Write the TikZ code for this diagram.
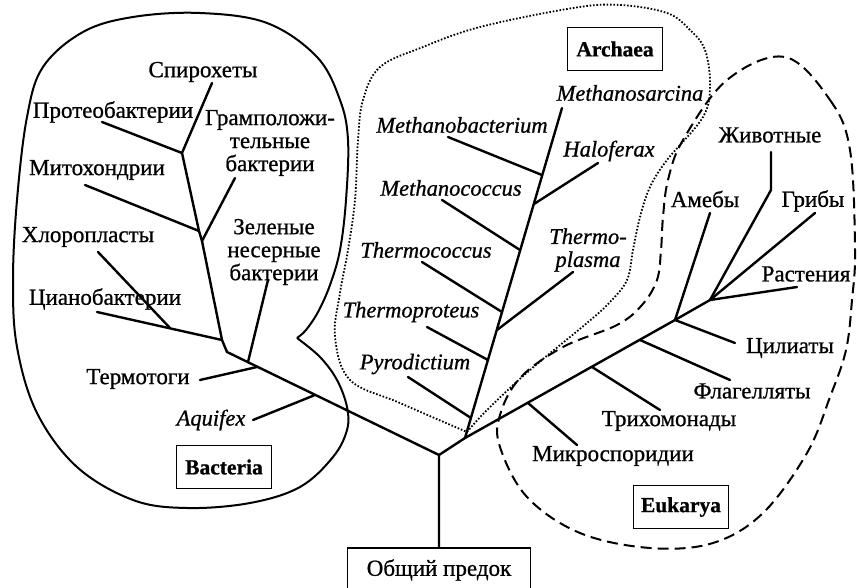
\documentclass[tikz,border=0pt]{standalone}
\usepackage{fontspec}
\setmainfont{Liberation Serif}[FakeBold=0.8]
\begin{document}
\begin{tikzpicture}[x=1pt,y=-1pt,
  br/.style={line width=2.4pt,line cap=round},
  lbl/.style={inner sep=1pt,align=center,font=\fontsize{23}{23}\selectfont},
  sp/.style={inner sep=1pt,align=center,font=\fontsize{22.5}{23}\selectfont\itshape},
  dom/.style={draw,line width=1.8pt,minimum width=95pt,minimum height=43pt,inner sep=2pt,font=\fontsize{21.5}{23}\selectfont\bfseries}]
  \useasboundingbox (0,0) rectangle (857,588);
  % outlines of the three domains
  \draw[line width=2pt] plot[smooth,tension=0.6] coordinates {(297,338) (320,357) (337,380) (347,407) (347,430) (333,457) (300,487) (250,503) (187,508) (133,500) (77,467) (37,413) (17,347) (13,280) (17,200) (27,117) (43,67) (83,32) (133,17) (200,13) (267,23) (317,57) (340,100) (348,140) (346,200) (340,250) (330,285) (318,312) (306,330) (297,338)};
  \draw[line width=1.8pt,dash pattern=on 1.6pt off 1.8pt] plot[smooth,tension=0.6] coordinates {(467,432) (487,410) (530,370) (587,323) (610,302) (627,280) (633,250) (640,217) (650,187) (667,160) (703,117) (710,85) (705,50) (690,30) (667,13) (620,5) (573,8) (480,27) (423,47) (380,67) (363,100) (358,140) (355,200) (348,250) (340,293) (335,337) (350,380) (400,403) (467,432)};
  \draw[line width=2pt,dash pattern=on 11pt off 6pt] plot[smooth cycle,tension=0.6] coordinates {(785,57) (830,100) (850,150) (855,250) (852,300) (846,350) (830,397) (807,453) (763,513) (713,543) (650,548) (580,533) (527,497) (500,447) (500,415) (520,378) (563,347) (617,325) (642,305) (657,280) (661,250) (663,217) (668,180) (683,140) (727,80)};

  \node[dom] (bact) at (224,467) {Bacteria};
  \node[dom] (arch) at (615,49) {Archaea};
  \node[dom] (euk) at (681,507) {Eukarya};
  \node[draw,line width=1.8pt,minimum width=183pt,minimum height=44pt,lbl] (anc) at (439,570) {Общий предок};

  \coordinate (r0) at (439,455);
  \coordinate (a0) at (465,438);
  \draw[br] (anc) -- (r0) -- (a0);

  % Bacteria
  \coordinate (b0) at (227,352);
  \coordinate (bcy) at (222,340);
  \coordinate (bch) at (170,328);
  \coordinate (bgr) at (202,241);
  \coordinate (bmi) at (199,231);
  \coordinate (bpr) at (182,153);
  \coordinate (baq) at (315,395);
  \coordinate (bth) at (257,367);
  \coordinate (bgn) at (248,362);
  \coordinate (spiroE) at (212,83);
  \coordinate (proteoE) at (102,122);
  \coordinate (mitoE) at (85,185);
  \coordinate (gramE) at (235,178);
  \coordinate (chloroE) at (98,252);
  \coordinate (cyanoE) at (97,312);
  \coordinate (greenE) at (268,280);
  \coordinate (thermoE) at (200,380);
  \coordinate (aquiE) at (253,420);
  \draw[br] (r0) -- (b0) -- (bcy) -- (bgr) -- (bmi) -- (bpr) -- (spiroE);
  \draw[br] (bpr) -- (proteoE);
  \draw[br] (bmi) -- (mitoE);
  \draw[br] (bgr) -- (gramE);
  \draw[br] (bcy) -- (cyanoE);
  \draw[br] (bch) -- (chloroE);
  \draw[br] (bgn) -- (greenE);
  \draw[br] (bth) -- (thermoE);
  \draw[br] (baq) -- (aquiE);
  \node[lbl] (spiro) at (203,72) {Спирохеты};
  \node[lbl] (proteo) at (113,112) {Протеобактерии};
  \node[lbl] (gram) at (270,143) {Грамположи-\\тельные\\бактерии};
  \node[lbl] (mito) at (97,170) {Митохондрии};
  \node[lbl] (chloro) at (88,237) {Хлоропласты};
  \node[lbl] (green) at (274,252) {Зеленые\\несерные\\бактерии};
  \node[lbl] (cyano) at (105,299) {Цианобактерии};
  \node[lbl] (thermo) at (138,379) {Термотоги};
  \node[sp] (aqui) at (211,420) {Aquifex};

  % Archaea
  \coordinate (a1) at (562,108);
  \coordinate (apy) at (471,418);
  \coordinate (atp) at (488,360);
  \coordinate (atl) at (497,330);
  \coordinate (atc) at (502,312);
  \coordinate (amc) at (520,250);
  \coordinate (aha) at (534,204);
  \coordinate (amb) at (542,175);
  \draw[br] (a0) -- (a1);
  \draw[br] (apy) -- (408,377) coordinate (pyroE);
  \draw[br] (atp) -- (427,327) coordinate (tprotE);
  \draw[br] (atl) -- (573,272) coordinate (tplasE);
  \draw[br] (atc) -- (422,262) coordinate (tcocE);
  \draw[br] (amc) -- (442,200) coordinate (mcocE);
  \draw[br] (aha) -- (598,163) coordinate (haloE);
  \draw[br] (amb) -- (448,137) coordinate (mbacE);
  \node[sp] (msar) at (630,93) {Methanosarcina};
  \node[sp] (mbac) at (462,125) {Methanobacterium};
  \node[sp] (halo) at (609,151) {Haloferax};
  \node[sp] (mcoc) at (451,188) {Methanococcus};
  \node[sp] (tplas) at (588,250) {Thermo-\\plasma};
  \node[sp] (tcoc) at (426,250) {Thermococcus};
  \node[sp] (tprot) at (411,312) {Thermoproteus};
  \node[sp] (pyro) at (415,364) {Pyrodictium};

  % Eukarya
  \coordinate (e1) at (675,320);
  \coordinate (e2) at (710,300);
  \coordinate (emi) at (528,403);
  \coordinate (etr) at (592,367);
  \coordinate (efl) at (640,340);
  \coordinate (ebend) at (771,190);
  \draw[br] (a0) -- (e1) -- (e2) -- (ebend) -- (771,152) coordinate (animE);
  \draw[br] (e2) -- (815,213) coordinate (fungE);
  \draw[br] (e2) -- (797,287) coordinate (plantE);
  \draw[br] (e1) -- (710,213) coordinate (amoE);
  \draw[br] (e1) -- (735,343) coordinate (cilE);
  \draw[br] (efl) -- (730,380) coordinate (flagE);
  \draw[br] (etr) -- (660,410) coordinate (trichE);
  \draw[br] (emi) -- (577,445) coordinate (microE);
  \node[lbl] (anim) at (770,135) {Животные};
  \node[lbl] (amo) at (705,199) {Амебы};
  \node[lbl] (fung) at (813,201) {Грибы};
  \node[lbl] (plant) at (806,274) {Растения};
  \node[lbl] (cil) at (790,348) {Цилиаты};
  \node[lbl] (flag) at (752,391) {Флагелляты};
  \node[lbl] (trich) at (669,421) {Трихомонады};
  \node[lbl] (micro) at (613,456) {Микроспоридии};
\end{tikzpicture}
\end{document}
